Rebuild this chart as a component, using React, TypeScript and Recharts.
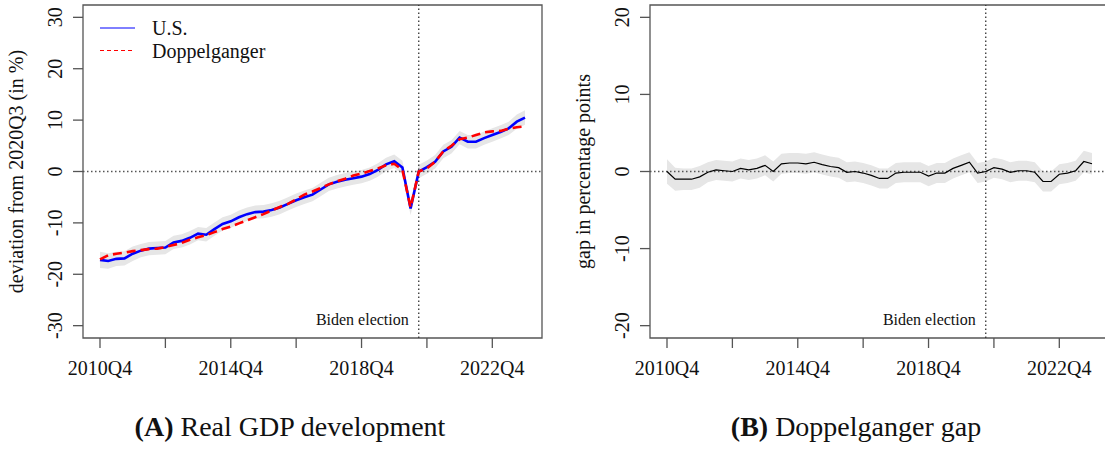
import React from "react";
import {
  ComposedChart,
  Line,
  Area,
  XAxis,
  YAxis,
  Label,
  Legend,
  ReferenceLine,
  ReferenceArea,
} from "recharts";

const FONT = "'Liberation Serif', 'Times New Roman', serif";
const INK = "#111";
const AXIS = "#555";

// 2010Q4 .. 2023Q4
const quarters: string[] = [];
for (let y = 2010; y <= 2023; y++) {
  for (let q = 1; q <= 4; q++) {
    if (y > 2010 || q === 4) quarters.push(`${y}Q${q}`);
  }
}

// real GDP, deviation from 2020Q3 in %
const usGdp = [
  -17.2, -17.4, -17.0, -16.9, -16.0, -15.4, -15.0, -14.9, -14.8, -13.8,
  -13.5, -12.9, -12.1, -12.3, -11.2, -10.2, -9.7, -8.9, -8.3, -7.9,
  -7.8, -7.5, -7.0, -6.3, -5.6, -5.0, -4.5, -3.5, -2.5, -2.0,
  -1.6, -1.3, -1.0, -0.5, 0.3, 1.4, 2.0, 0.8, -7.2, 0.0,
  0.85, 1.9, 3.9, 4.8, 6.6, 5.8, 5.8, 6.5, 7.1, 7.7,
  8.4, 9.7, 10.5,
];
const doppelganger = [
  -17.1, -16.3, -16.0, -15.8, -15.5, -15.3, -15.1, -15.0, -14.7, -14.3,
  -13.9, -13.3, -12.8, -12.4, -11.8, -11.2, -10.7, -10.1, -9.5, -8.9,
  -8.3, -7.6, -6.9, -6.3, -5.4, -4.5, -3.9, -3.2, -2.5, -1.9,
  -1.4, -0.8, -0.4, 0.1, 0.6, 1.2, 1.5, 0.3, -7.0, 0.0,
  0.6, 1.9, 3.9, 5.0, 6.3, 6.6, 7.1, 7.6, 7.8, 7.9,
  8.3, 8.6, 8.8,
];
// gap in percentage points
const gap = [
  0.0, -1.0, -1.0, -1.0, -0.7, -0.1, 0.2, 0.1, 0.0, 0.4,
  0.2, 0.4, 0.8, 0.0, 1.0, 1.1, 1.1, 1.0, 1.2, 0.9,
  0.65, 0.5, -0.1, 0.0, -0.2, -0.5, -0.9, -0.9, -0.2, -0.1,
  -0.1, -0.1, -0.6, -0.2, -0.2, 0.4, 0.8, 1.2, -0.2, 0.0,
  0.5, 0.3, -0.1, 0.1, 0.1, -0.1, -1.3, -1.3, -0.35, -0.2,
  0.1, 1.3, 1.0,
];
// half width of the confidence band
const bandHalfWidth = [
  1.6, 1.5, 1.4, 1.4, 1.4, 1.3, 1.3, 1.3, 1.3, 1.3,
  1.3, 1.3, 1.3, 1.3, 1.3, 1.3, 1.3, 1.3, 1.3, 1.3,
  1.3, 1.3, 1.3, 1.3, 1.3, 1.3, 1.3, 1.3, 1.3, 1.3,
  1.3, 1.3, 1.3, 1.3, 1.3, 1.3, 1.3, 1.3, 1.3, 1.3,
  1.3, 1.3, 1.3, 1.3, 1.3, 1.3, 1.3, 1.3, 1.3, 1.3,
  1.3, 1.4, 1.4,
];

const xTicks = ["2010Q4", "2012Q4", "2014Q4", "2016Q4", "2018Q4", "2020Q4", "2022Q4"];
const xTickLabels = ["2010Q4", "2014Q4", "2018Q4", "2022Q4"];
const gdpTicks = [-30, -20, -10, 0, 10, 20, 30];
const gapTicks = [-20, -10, 0, 10, 20];
const electionQuarter = "2020Q3";

const legendItems = [
  { name: "U.S.", color: "#0000ff", dash: undefined as string | undefined },
  { name: "Doppelganger", color: "#ff0000", dash: "4 3" },
];

// like R: pad the range by 4% on each side
const pad = (lo: number, hi: number): [number, number] => {
  const d = (hi - lo) * 0.04;
  return [lo - d, hi + d];
};

const xDomain = pad(0, quarters.length - 1);
const gdpDomain = pad(-30, 30);
const gapDomain = pad(-20, 20);
const xTickIdx = xTicks.map((q) => quarters.indexOf(q));
const electionIdx = quarters.indexOf(electionQuarter);

const gdpData = quarters.map((q, i) => ({
  t: i,
  us: usGdp[i],
  dg: doppelganger[i],
  band: [usGdp[i] - bandHalfWidth[i], usGdp[i] + bandHalfWidth[i]],
}));
const gapData = quarters.map((q, i) => ({
  t: i,
  gap: gap[i],
  band: [gap[i] - bandHalfWidth[i], gap[i] + bandHalfWidth[i]],
}));

const XTick = ({ x, y, payload }: any) => {
  const label = quarters[payload.value];
  if (!xTickLabels.includes(label)) return <g />;
  return (
    <text x={x} y={y + 25} textAnchor="middle" fontFamily={FONT} fontSize={20} fill={INK}>
      {label}
    </text>
  );
};

const YTick = ({ x, y, payload }: any) => {
  const bx = x - 9;
  return (
    <text
      x={bx}
      y={y}
      transform={`rotate(-90, ${bx}, ${y})`}
      textAnchor="middle"
      fontFamily={FONT}
      fontSize={20}
      fill={INK}
    >
      {payload.value}
    </text>
  );
};

const axisTitle = (text: string) => (props: any) => {
  const { x, y, height } = props.viewBox;
  const cx = x + 23;
  const cy = y + height / 2;
  return (
    <text
      x={cx}
      y={cy}
      transform={`rotate(-90, ${cx}, ${cy})`}
      textAnchor="middle"
      fontFamily={FONT}
      fontSize={20}
      fill={INK}
    >
      {text}
    </text>
  );
};

const electionLabel = (props: any) => {
  const { x, y, height } = props.viewBox;
  return (
    <text x={x - 10} y={y + height - 13} textAnchor="end" fontFamily={FONT} fontSize={16} fill={INK}>
      Biden election
    </text>
  );
};

const LegendBox = () => (
  <svg width={200} height={50}>
    {legendItems.map((item, i) => (
      <g key={item.name}>
        <line
          x1={4}
          x2={39}
          y1={14 + i * 22.5}
          y2={14 + i * 22.5}
          stroke={item.color}
          strokeWidth={1}
          strokeDasharray={item.dash}
        />
        <text x={56} y={21 + i * 23} fontFamily={FONT} fontSize={20} fill={INK}>
          {item.name}
        </text>
      </g>
    ))}
  </svg>
);

const PlotFrame = ({ yDomain }: { yDomain: [number, number] }) => (
  <ReferenceArea
    x1={xDomain[0]}
    x2={xDomain[1]}
    y1={yDomain[0]}
    y2={yDomain[1]}
    fill="none"
    stroke={AXIS}
    strokeWidth={1.3}
    ifOverflow="visible"
  />
);

const xAxisProps = {
  type: "number" as const,
  dataKey: "t",
  domain: xDomain,
  ticks: xTickIdx,
  interval: 0 as const,
  allowDataOverflow: true,
  axisLine: false,
  tickSize: 10,
  tickLine: { stroke: AXIS, strokeWidth: 1.3 },
  tick: <XTick />,
  height: 62,
};

const App = () => (
  <div
    style={{
      position: "absolute",
      left: 0,
      top: 0,
      width: 1105,
      height: 449,
      overflow: "hidden",
      background: "#fff",
      fontFamily: FONT,
      color: INK,
    }}
  >
    <div style={{ position: "absolute", left: 0, top: 0 }}>
      <ComposedChart width={560} height={400} data={gdpData} margin={{ top: 5, right: 18, left: 0, bottom: 0 }}>
        <XAxis {...xAxisProps} />
        <YAxis
          type="number"
          domain={gdpDomain}
          ticks={gdpTicks}
          interval={0}
          allowDataOverflow
          width={83}
          axisLine={false}
          tickSize={10}
          tickLine={{ stroke: AXIS, strokeWidth: 1.3 }}
          tick={<YTick />}
        >
          <Label content={axisTitle("deviation from 2020Q3 (in %)")} />
        </YAxis>
        <Area
          dataKey="band"
          type="linear"
          stroke="none"
          fill="#e6e6e6"
          fillOpacity={1}
          legendType="none"
          isAnimationActive={false}
        />
        <ReferenceLine y={0} stroke="#555" strokeWidth={1.3} strokeDasharray="1.5 2.5" />
        <ReferenceLine
          x={electionIdx}
          stroke="#333"
          strokeWidth={1.3}
          strokeDasharray="1.5 2.5"
          label={electionLabel}
        />
        <Line
          dataKey="us"
          name="U.S."
          type="linear"
          stroke="#0000ff"
          strokeWidth={2.6}
          dot={false}
          isAnimationActive={false}
        />
        <Line
          dataKey="dg"
          name="Doppelganger"
          type="linear"
          stroke="#ff0000"
          strokeWidth={2.6}
          strokeDasharray="9 5"
          dot={false}
          isAnimationActive={false}
        />
        <PlotFrame yDomain={gdpDomain} />
        <Legend
          layout="vertical"
          align="center"
          verticalAlign="middle"
          content={<LegendBox />}
          wrapperStyle={{ top: 14, left: 96, width: 200, height: 50 }}
        />
      </ComposedChart>
    </div>

    <div style={{ position: "absolute", left: 567, top: 0 }}>
      <ComposedChart width={560} height={400} data={gapData} margin={{ top: 5, right: 18, left: 0, bottom: 0 }}>
        <XAxis {...xAxisProps} />
        <YAxis
          type="number"
          domain={gapDomain}
          ticks={gapTicks}
          interval={0}
          allowDataOverflow
          width={83}
          axisLine={false}
          tickSize={10}
          tickLine={{ stroke: AXIS, strokeWidth: 1.3 }}
          tick={<YTick />}
        >
          <Label content={axisTitle("gap in percentage points")} />
        </YAxis>
        <Area
          dataKey="band"
          type="linear"
          stroke="none"
          fill="#e6e6e6"
          fillOpacity={1}
          isAnimationActive={false}
        />
        <ReferenceLine y={0} stroke="#555" strokeWidth={1.3} strokeDasharray="1.5 2.5" />
        <ReferenceLine
          x={electionIdx}
          stroke="#333"
          strokeWidth={1.3}
          strokeDasharray="1.5 2.5"
          label={electionLabel}
        />
        <Line
          dataKey="gap"
          type="linear"
          stroke="#000"
          strokeWidth={1.2}
          dot={false}
          isAnimationActive={false}
        />
        <PlotFrame yDomain={gapDomain} />
      </ComposedChart>
    </div>

    <div
      style={{
        position: "absolute",
        left: 90,
        top: 413,
        width: 400,
        textAlign: "center",
        fontSize: 28,
        lineHeight: "28px",
        whiteSpace: "nowrap",
      }}
    >
      <b>(A)</b> Real GDP development
    </div>
    <div
      style={{
        position: "absolute",
        left: 656,
        top: 413,
        width: 400,
        textAlign: "center",
        fontSize: 28,
        lineHeight: "28px",
        whiteSpace: "nowrap",
      }}
    >
      <b>(B)</b> Doppelganger gap
    </div>
  </div>
);

export default App;
